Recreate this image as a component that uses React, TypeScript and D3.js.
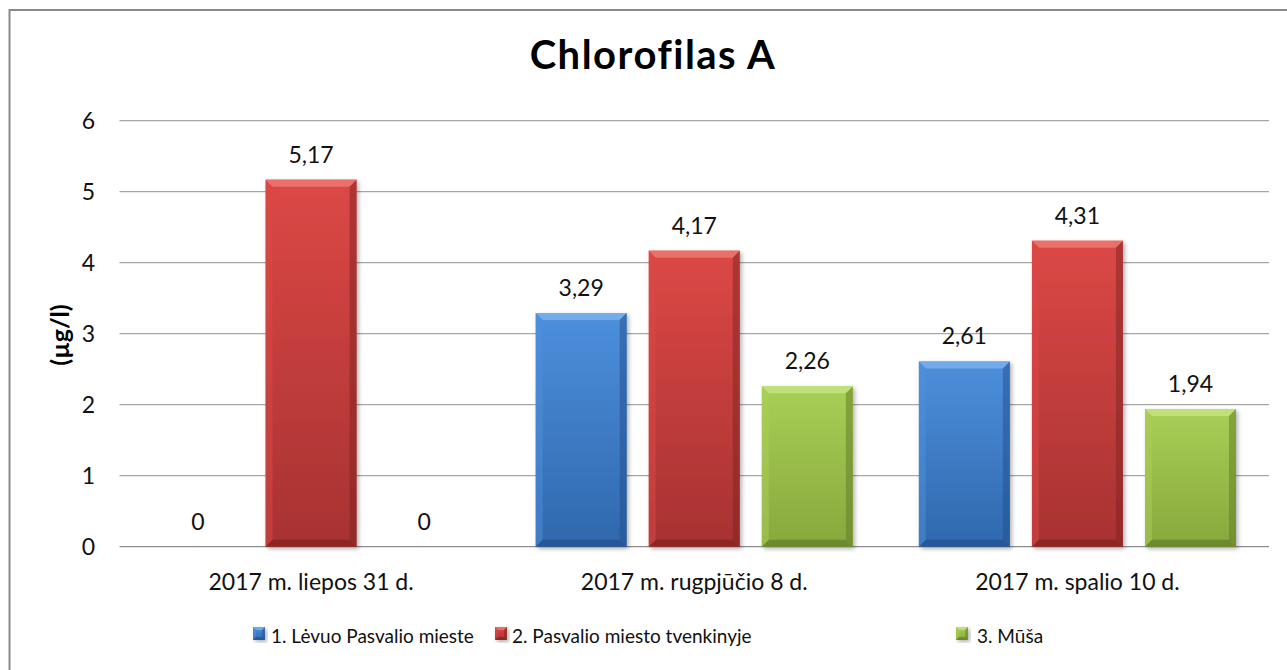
import React from "react";
import * as d3 from "d3";

const categories = ["2017 m. liepos 31 d.", "2017 m. rugpjūčio 8 d.", "2017 m. spalio 10 d."];
const seriesNames = ["1. Lėvuo Pasvalio mieste", "2. Pasvalio miesto tvenkinyje", "3. Mūša"];
const seriesLevuo = [0, 3.29, 2.61];
const seriesTvenkinys = [5.17, 4.17, 4.31];
const seriesMusa = [0, 2.26, 1.94];
const yTicks = [0, 1, 2, 3, 4, 5, 6];
const title = "Chlorofilas A";
const yTitle = "(µg/l)";

const palette = [
  { light: "#7fb2ee", top: "#4d8fdc", bottom: "#2f68ad", dark: "#22508a" },
  { light: "#ee7a74", top: "#dc4846", bottom: "#a73231", dark: "#7e2322" },
  { light: "#c6e582", top: "#a9cf57", bottom: "#87a83c", dark: "#5f7a26" },
];

const FONT = "Lato, 'Open Sans', sans-serif";

function Bar({ x, y, w, h, i, bevel = 7 }: { x: number; y: number; w: number; h: number; i: number; bevel?: number }) {
  if (h <= 0) return null;
  const b = Math.min(bevel, h / 2, w / 2);
  const c = palette[i];
  return (
    <g filter="url(#shadow)">
      <rect x={x} y={y} width={w} height={h} fill={`url(#grad${i})`} />
      <polygon points={`${x},${y} ${x + w},${y} ${x + w - b},${y + b} ${x + b},${y + b}`} fill={c.light} opacity={0.8} />
      <polygon points={`${x},${y} ${x + b},${y + b} ${x + b},${y + h - b} ${x},${y + h}`} fill={c.top} opacity={0.5} />
      <polygon points={`${x + w},${y} ${x + w},${y + h} ${x + w - b},${y + h - b} ${x + w - b},${y + b}`} fill={c.dark} opacity={0.5} />
      <polygon points={`${x},${y + h} ${x + w},${y + h} ${x + w - b},${y + h - b} ${x + b},${y + h - b}`} fill={c.dark} opacity={0.65} />
    </g>
  );
}

export default function App() {
  const W = 1287, H = 670;
  const left = 119.5, right = 1269, yBottom = 546.7, yTop = 120.7;
  const series = [seriesLevuo, seriesTvenkinys, seriesMusa];

  const x0 = d3.scaleBand<string>().domain(categories).range([left, right]).padding(0);
  const x1 = d3.scaleBand<number>().domain([0, 1, 2]).range([0, x0.bandwidth()]).paddingInner(0.195).paddingOuter(0.292);
  const y = d3.scaleLinear().domain([0, 6]).range([yBottom, yTop]);
  const fmt = (v: number) => (v === 0 ? "0" : d3.format(".2f")(v).replace(".", ","));

  const legendX = [253, 495, 956];
  const legendTextX = [271, 512, 977];

  return (
    <svg width={W} height={H} style={{ position: "absolute", left: 0, top: 0, background: "#fff" }} fontFamily={FONT}>
      <defs>
        {palette.map((c, i) => (
          <linearGradient key={i} id={`grad${i}`} x1="0" y1="0" x2="0" y2="1">
            <stop offset="0" stopColor={c.top} />
            <stop offset="1" stopColor={c.bottom} />
          </linearGradient>
        ))}
        <filter id="shadow" x="-20%" y="-20%" width="140%" height="140%">
          <feDropShadow dx="2" dy="2" stdDeviation="2" floodColor="#000" floodOpacity="0.3" />
        </filter>
      </defs>
      <rect x={0} y={0} width={W} height={H} fill="#fff" />
      <rect x={9.5} y={10} width={1300} height={700} fill="none" stroke="#8a8a8a" strokeWidth={2} />

      <text x={653} y={69} textAnchor="middle" fontSize={40} fontWeight={700} letterSpacing={1.5} fill="#000">{title}</text>

      {yTicks.map((t) => (
        <g key={t}>
          <line x1={left} x2={right} y1={y(t)} y2={y(t)} stroke={t === 0 ? "#8c8c8c" : "#a6a6a6"} strokeWidth={1.3} />
          <text x={95} y={y(t) + 8} textAnchor="end" fontSize={23} fill="#111">{t}</text>
        </g>
      ))}

      <text transform={`translate(69,335) rotate(-90)`} textAnchor="middle" fontSize={25} fontWeight={700} fill="#000">{yTitle}</text>

      {categories.map((cat, ci) => (
        <g key={cat}>
          {series.map((s, si) => {
            const bx = (x0(cat) as number) + (x1(si) as number);
            const bw = x1.bandwidth();
            const v = s[ci];
            return (
              <g key={si}>
                <Bar x={bx} y={y(v)} w={bw} h={yBottom - y(v)} i={si} />
                <text x={bx + bw / 2} y={y(v) - 17} textAnchor="middle" fontSize={23} fill="#111">{fmt(v)}</text>
              </g>
            );
          })}
          <text x={(x0(cat) as number) + x0.bandwidth() / 2} y={590} textAnchor="middle" fontSize={23} fill="#111">{cat}</text>
        </g>
      ))}

      {seriesNames.map((n, i) => (
        <g key={n}>
          <Bar x={legendX[i]} y={627} w={12} h={13} i={i} bevel={3} />
          <text x={legendTextX[i]} y={643} fontSize={19} fill="#111">{n}</text>
        </g>
      ))}
    </svg>
  );
}
